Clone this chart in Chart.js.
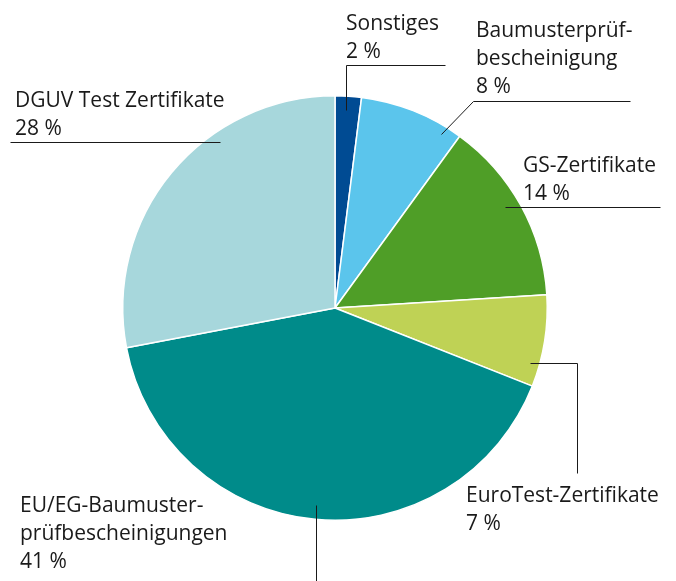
<!DOCTYPE html>
<html lang="de">
<head>
<meta charset="UTF-8">
<title>Prüfbescheinigungen</title>
<script src="https://cdn.jsdelivr.net/npm/chart.js"></script>
<style>
  html, body { margin: 0; padding: 0; background: #fff; }
  #wrap { width: 676px; height: 581px; position: relative; }
</style>
</head>
<body>
<div id="wrap"><canvas id="pie" width="676" height="581"></canvas></div>
<script>
// Daten
const kategorien = ['Sonstiges', 'Baumusterprüfbescheinigung', 'GS-Zertifikate', 'EuroTest-Zertifikate', 'EU/EG-Baumusterprüfbescheinigungen', 'DGUV Test Zertifikate'];
const anteile = [2, 8, 14, 7, 41, 28];
const labelZeilen = [
  ['Sonstiges'],
  ['Baumusterprüf-', 'bescheinigung'],
  ['GS-Zertifikate'],
  ['EuroTest-Zertifikate'],
  ['EU/EG-Baumuster-', 'prüfbescheinigungen'],
  ['DGUV Test Zertifikate']
];
const farben = ['#004b93', '#5bc5ec', '#4f9e27', '#bfd255', '#008b8a', '#a7d7dc'];

// Beschriftung: Textposition (x, erste Grundlinie) und Führungslinie
const beschriftung = [
  { x: 346, y: 30, linie: [[346, 110], [346, 65], [445, 65]] },
  { x: 476, y: 37, linie: [[441, 134], [473, 101], [630, 101]] },
  { x: 523, y: 172, linie: [[505, 207], [660, 207]] },
  { x: 466, y: 502, linie: [[530, 363], [577, 363], [577, 473]] },
  { x: 20, y: 512, linie: [[316, 505], [316, 581]] },
  { x: 15, y: 107, linie: [[220, 142], [10, 142]] }
];

const labelPlugin = {
  id: 'labels',
  afterDraw(chart) {
    const ctx = chart.ctx;
    ctx.save();
    ctx.strokeStyle = '#1a1a1a';
    ctx.lineWidth = 1;
    beschriftung.forEach(b => {
      ctx.beginPath();
      b.linie.forEach((p, j) => {
        if (j === 0) ctx.moveTo(p[0] + 0.5, p[1] + 0.5);
        else ctx.lineTo(p[0] + 0.5, p[1] + 0.5);
      });
      ctx.stroke();
    });
    ctx.fillStyle = '#1a1a1a';
    ctx.font = '21px "Open Sans"';
    ctx.textBaseline = 'alphabetic';
    beschriftung.forEach((b, i) => {
      const zeilen = labelZeilen[i].concat([anteile[i] + ' %']);
      zeilen.forEach((t, j) => ctx.fillText(t, b.x, b.y + j * 28));
    });
    ctx.restore();
  }
};

new Chart(document.getElementById('pie'), {
  type: 'pie',
  data: {
    labels: kategorien,
    datasets: [{
      data: anteile,
      backgroundColor: farben,
      borderColor: '#ffffff',
      borderWidth: 1.5
    }]
  },
  options: {
    responsive: false,
    animation: false,
    layout: { padding: { left: 122, right: 128, top: 95, bottom: 60 } },
    plugins: { legend: { display: false }, tooltip: { enabled: false } }
  },
  plugins: [labelPlugin]
});
</script>
</body>
</html>
